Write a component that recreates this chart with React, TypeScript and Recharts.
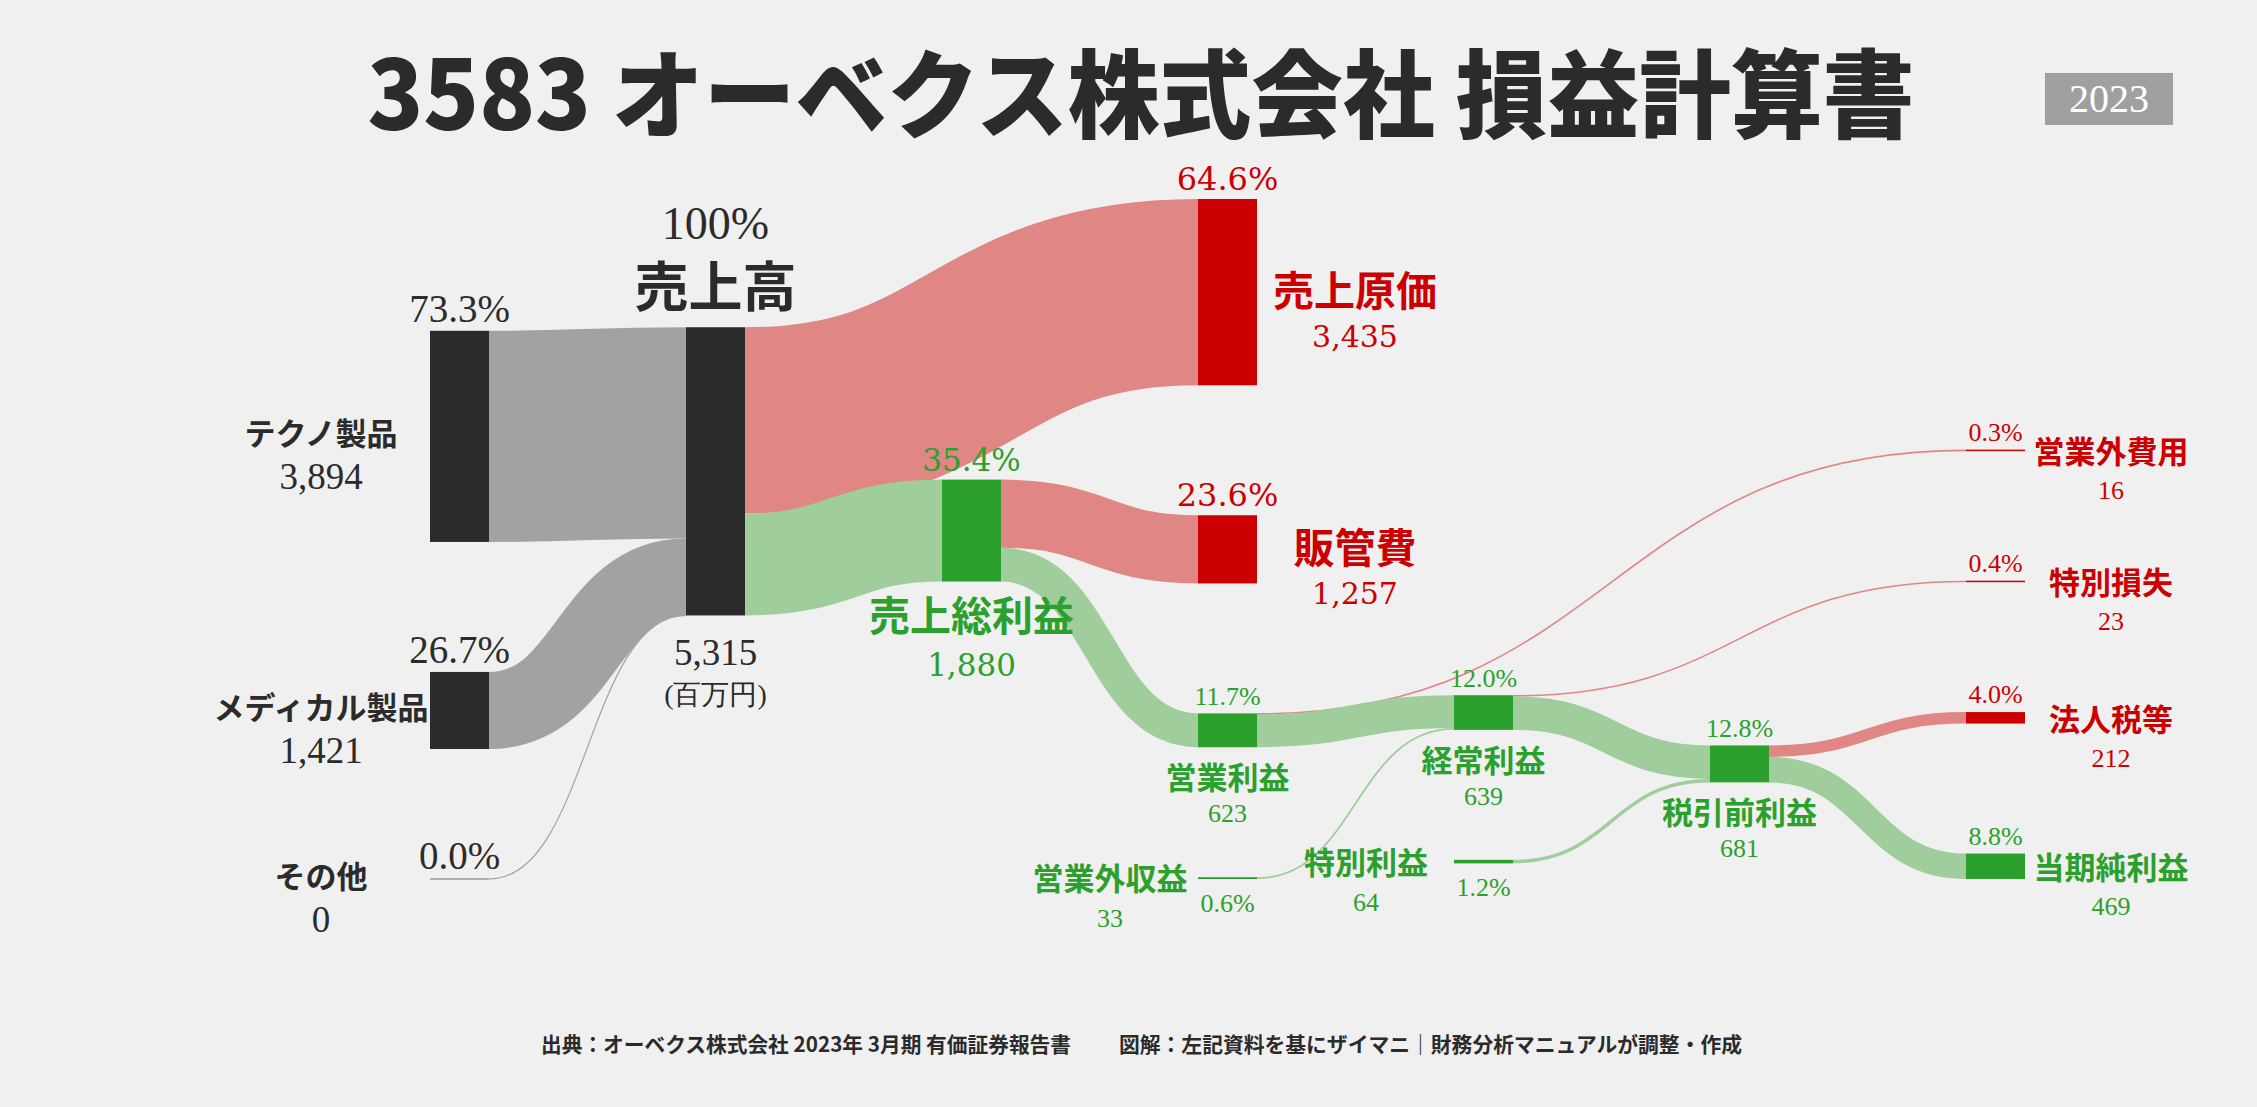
import React from 'react';
import { Sankey } from 'recharts';

// ---- data (百万円) ----
const nodeNames = [
  'テクノ製品', 'メディカル製品', 'その他',
  '売上高',
  '売上総利益',
  '売上原価', '販管費', '営業利益', '営業外収益',
  '経常利益', '特別利益',
  '税引前利益',
  '営業外費用', '特別損失', '法人税等', '当期純利益',
];
const nodeValues = [3894, 1421, 0, 5315, 1880, 3435, 1257, 623, 33, 639, 64, 681, 16, 23, 212, 469];
const nodeShares = ['73.3%', '26.7%', '0.0%', '100%', '35.4%', '64.6%', '23.6%', '11.7%', '0.6%', '12.0%', '1.2%', '12.8%', '0.3%', '0.4%', '4.0%', '8.8%'];

const linkSources = ['テクノ製品', 'メディカル製品', 'その他', '売上高', '売上高', '売上総利益', '売上総利益', '営業利益', '営業利益', '営業外収益', '経常利益', '経常利益', '特別利益', '税引前利益', '税引前利益'];
const linkTargets = ['売上高', '売上高', '売上高', '売上原価', '売上総利益', '販管費', '営業利益', '営業外費用', '経常利益', '経常利益', '特別損失', '税引前利益', '税引前利益', '法人税等', '当期純利益'];
const linkValues = [3894, 1421, 0, 3435, 1880, 1257, 623, 16, 607, 33, 23, 617, 64, 212, 469];

const titleText = '3583 オーベクス株式会社 損益計算書';
const yearText = '2023';
const sourceText = '出典：オーベクス株式会社 2023年 3月期 有価証券報告書';
const creditText = '図解：左記資料を基にザイマニ｜財務分析マニュアルが調整・作成';
const unitText = '(百万円)';

// ---- layout helpers (invisible, near-zero links that only steer the column of a node) ----
const EPS = 0.01;
const layoutLinks: [string, string][] = [
  ['売上総利益', '売上原価'],
  ['売上総利益', '営業外収益'],
  ['営業外収益', '特別利益'],
  ['売上原価', '営業外費用'],
  ['販管費', '特別損失'],
];

const idx = (n: string) => nodeNames.indexOf(n);

const sankeyData = {
  nodes: nodeNames.map((name, i) => ({ name, amount: nodeValues[i], share: nodeShares[i] })),
  links: [
    ...linkSources.map((s, i) => ({ source: idx(s), target: idx(linkTargets[i]), value: Math.max(linkValues[i], EPS), hidden: false })),
    ...layoutLinks.map(([s, t]) => ({ source: idx(s), target: idx(t), value: EPS, hidden: true })),
  ],
};

// ---- styles ----
const DARK = '#2b2b2b';
const RED = '#cc0000';
const GREEN = '#2ca02c';
const LINK_GRAY = '#a2a2a2';
const LINK_RED = '#e08785';
const LINK_GREEN = '#9fcd9b';

const SERIF = '"Liberation Serif", "DejaVu Serif", serif';
const CENTURY = '"DejaVu Serif", "Liberation Serif", serif';
const SANS = '"Noto Sans CJK JP", "Noto Sans", sans-serif';

const ROLE: Record<string, string> = {
  'テクノ製品': 'segment', 'メディカル製品': 'segment', 'その他': 'segment',
  '売上高': 'revenue',
  '売上原価': 'costBig', '販管費': 'costBig',
  '売上総利益': 'profitBig',
  '営業利益': 'profit', '経常利益': 'profit', '税引前利益': 'profit',
  '営業外収益': 'income', '特別利益': 'income',
  '営業外費用': 'sink', '特別損失': 'sink', '法人税等': 'sink', '当期純利益': 'sink',
};
const COLOR: Record<string, string> = {
  'テクノ製品': DARK, 'メディカル製品': DARK, 'その他': DARK, '売上高': DARK,
  '売上原価': RED, '販管費': RED, '営業外費用': RED, '特別損失': RED, '法人税等': RED,
  '売上総利益': GREEN, '営業利益': GREEN, '経常利益': GREEN, '税引前利益': GREEN,
  '営業外収益': GREEN, '特別利益': GREEN, '当期純利益': GREEN,
};

function Txt({ x, y, size, family, color, weight, children }: any) {
  return (
    <text x={x} y={y} textAnchor="middle" fill={color} fontSize={size} fontFamily={family} fontWeight={weight || 400}>
      {children}
    </text>
  );
}

function SankeyNode(props: any) {
  const { x, y, width, height, payload } = props;
  const name: string = payload.name;
  const role = ROLE[name];
  const color = COLOR[name];
  const cx = x + width / 2;
  const cy = y + height / 2;
  const right = x + width;
  const h = Math.max(height, 1.5);
  const top = height < 1.5 ? cy - 0.75 : y;
  const bottom = y + height;
  const amount = Number(payload.amount).toLocaleString('en-US');
  const share = payload.share;
  const fill = payload.amount === 0 ? '#9a9a9a' : color;
  let labels: React.ReactNode = null;

  if (role === 'segment') {
    labels = (
      <g>
        <Txt x={cx} y={top - 9} size={39} family={SERIF} color={DARK}>{share}</Txt>
        <Txt x={x - 109} y={cy + 9} size={31} family={SANS} weight={700} color={DARK}>{name}</Txt>
        <Txt x={x - 109} y={cy + 53} size={37} family={SERIF} color={DARK}>{amount}</Txt>
      </g>
    );
  } else if (role === 'revenue') {
    labels = (
      <g>
        <Txt x={cx} y={y - 88} size={46} family={SERIF} color={DARK}>{share}</Txt>
        <Txt x={cx} y={y - 20} size={54} family={SANS} weight={700} color={DARK}>{name}</Txt>
        <Txt x={cx} y={bottom + 50} size={37} family={SERIF} color={DARK}>{amount}</Txt>
        <Txt x={cx} y={bottom + 89} size={28} family={SERIF} color={DARK}>{unitText}</Txt>
      </g>
    );
  } else if (role === 'costBig') {
    labels = (
      <g>
        <Txt x={cx} y={y - 9} size={32} family={CENTURY} color={color}>{share}</Txt>
        <Txt x={right + 98} y={cy + 14} size={41} family={SANS} weight={700} color={color}>{name}</Txt>
        <Txt x={right + 98} y={cy + 55} size={30} family={CENTURY} color={color}>{amount}</Txt>
      </g>
    );
  } else if (role === 'profitBig') {
    labels = (
      <g>
        <Txt x={cx} y={y - 9} size={31} family={CENTURY} color={color}>{share}</Txt>
        <Txt x={cx} y={bottom + 49} size={41} family={SANS} weight={700} color={color}>{name}</Txt>
        <Txt x={cx} y={bottom + 94} size={31} family={CENTURY} color={color}>{amount}</Txt>
      </g>
    );
  } else if (role === 'profit') {
    labels = (
      <g>
        <Txt x={cx} y={y - 8} size={26} family={SERIF} color={color}>{share}</Txt>
        <Txt x={cx} y={bottom + 42} size={31} family={SANS} weight={700} color={color}>{name}</Txt>
        <Txt x={cx} y={bottom + 75} size={26} family={SERIF} color={color}>{amount}</Txt>
      </g>
    );
  } else if (role === 'income') {
    labels = (
      <g>
        <Txt x={cx} y={cy + 34} size={26} family={SERIF} color={color}>{share}</Txt>
        <Txt x={x - 88} y={cy + 12} size={31} family={SANS} weight={700} color={color}>{name}</Txt>
        <Txt x={x - 88} y={cy + 49} size={26} family={SERIF} color={color}>{amount}</Txt>
      </g>
    );
  } else {
    labels = (
      <g>
        <Txt x={cx} y={top - 9} size={26} family={SERIF} color={color}>{share}</Txt>
        <Txt x={right + 86} y={cy + 13} size={31} family={SANS} weight={700} color={color}>{name}</Txt>
        <Txt x={right + 86} y={cy + 49} size={26} family={SERIF} color={color}>{amount}</Txt>
      </g>
    );
  }

  return (
    <g>
      <rect x={x} y={top} width={width} height={h} fill={fill} />
      {labels}
    </g>
  );
}

function SankeyLink(props: any) {
  const { sourceX, targetX, sourceY, targetY, sourceControlX, targetControlX, linkWidth, payload } = props;
  if (!payload || payload.hidden) return <g />;
  const sName = typeof payload.source === 'object' ? payload.source.name : nodeNames[payload.source];
  const tName = typeof payload.target === 'object' ? payload.target.name : nodeNames[payload.target];
  let stroke = LINK_GREEN;
  if (ROLE[sName] === 'segment') stroke = LINK_GRAY;
  else if (COLOR[tName] === RED) stroke = LINK_RED;
  const w = Math.max(linkWidth, ROLE[sName] === 'segment' ? 1.2 : 1.6);
  return (
    <path
      d={`M${sourceX},${sourceY} C${sourceControlX},${sourceY} ${targetControlX},${targetY} ${targetX},${targetY}`}
      fill="none"
      stroke={stroke}
      strokeWidth={w}
    />
  );
}

export default function App() {
  return (
    <div style={{ position: 'absolute', left: 0, top: 0, width: 2257, height: 1107, background: '#f0f0f0', overflow: 'hidden' }}>
      <svg width={2257} height={1107} style={{ position: 'absolute', left: 0, top: 0 }}>
        <text x={1141} y={130} textAnchor="middle" fontSize={96} fontWeight={900} fontFamily={SANS} fill={DARK} textLength={1547} lengthAdjust="spacingAndGlyphs">
          {titleText}
        </text>
        <rect x={2045} y={73} width={128} height={52} fill="#a0a0a0" />
        <text x={2109} y={112} textAnchor="middle" fontSize={40} fontFamily={SERIF} fill="#ffffff">{yearText}</text>
        <text x={541} y={1052} fontSize={21} fontWeight={700} fontFamily={SANS} fill={DARK} textLength={530} lengthAdjust="spacingAndGlyphs">{sourceText}</text>
        <text x={1119} y={1052} fontSize={21} fontWeight={700} fontFamily={SANS} fill={DARK} textLength={623} lengthAdjust="spacingAndGlyphs">{creditText}</text>
      </svg>
      <div style={{ position: 'absolute', left: 0, top: 0 }}>
        <Sankey
          width={2257}
          height={1107}
          data={sankeyData}
          nodeWidth={59}
          nodePadding={130}
          iterations={120}
          sort={false}
          linkCurvature={0.5}
          margin={{ left: 430, right: 232, top: 199, bottom: 228 }}
          node={(p: any) => <SankeyNode {...p} />}
          link={(p: any) => <SankeyLink {...p} />}
        />
      </div>
    </div>
  );
}
